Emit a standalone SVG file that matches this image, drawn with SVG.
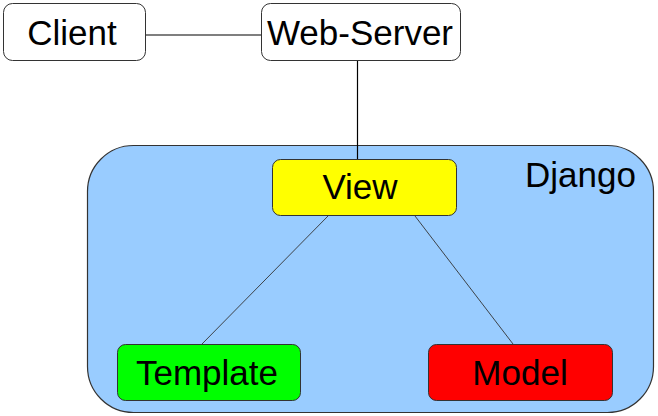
<svg xmlns="http://www.w3.org/2000/svg" width="658" height="416" viewBox="0 0 658 416">
<style>
.t{font-family:"Liberation Sans",Arial,sans-serif;font-size:35px;fill:#000;text-anchor:middle}
.n{stroke:#333;stroke-width:1}
.c{stroke:#000;stroke-width:1.2;fill:none}
.c2{stroke:#333;stroke-width:0.9;fill:none}
</style>
<rect width="658" height="416" fill="#fff"/>
<g id="django">
<rect x="87.5" y="145.5" width="566" height="267" rx="46" ry="46" fill="#99ccff" stroke="#333" stroke-width="1.2"/>
<text class="t" x="580.5" y="187">Django</text>
</g>
<g id="connectors">
<line class="c" x1="146" y1="35" x2="261" y2="35"/>
<line class="c" x1="357.5" y1="61" x2="357.5" y2="159"/>
<line class="c2" x1="328" y1="216" x2="202" y2="344"/>
<line class="c2" x1="415" y1="216" x2="513" y2="344"/>
</g>
<g id="client">
<rect class="n" x="3.5" y="3.5" width="142" height="57" rx="9" fill="#fff" stroke="#555"/>
<text class="t" x="72" y="45">Client</text>
</g>
<g id="webserver">
<rect class="n" x="261.5" y="3.5" width="199" height="57" rx="9" fill="#fff" stroke="#555"/>
<text class="t" x="360" y="45">Web-Server</text>
</g>
<g id="view">
<rect class="n" x="272.5" y="159.5" width="184" height="56" rx="8" fill="#ffff00"/>
<text class="t" x="360" y="199">View</text>
</g>
<g id="template">
<rect class="n" x="117.5" y="344.5" width="183" height="56" rx="8" fill="#00ff00"/>
<text class="t" x="207" y="385">Template</text>
</g>
<g id="model">
<rect class="n" x="428.5" y="344.5" width="184" height="56" rx="8" fill="#ff0000"/>
<text class="t" x="520" y="385">Model</text>
</g>
</svg>
